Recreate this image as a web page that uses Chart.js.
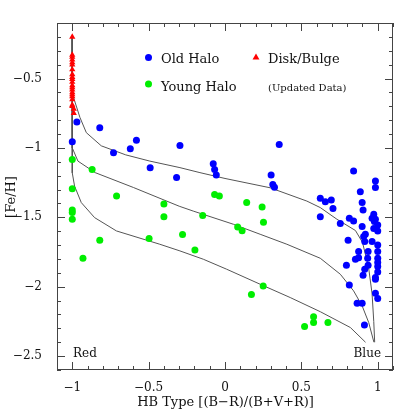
<!DOCTYPE html>
<html>
<head>
<meta charset="utf-8">
<script src="https://cdn.jsdelivr.net/npm/chart.js@4.4.1/dist/chart.umd.min.js"></script>
<style>
  html, body { margin: 0; padding: 0; background: #fff; }
  canvas { display: block; }
</style>
</head>
<body>
<canvas id="hb" width="415" height="415"></canvas>
<script>
const X_TICKS = [-1, -0.5, 0, 0.5, 1];
const Y_TICKS = [-2.5, -2, -1.5, -1, -0.5];

// Disk/Bulge clusters (all at the red end)
const diskX = [-1, -1, -1, -1, -1, -1, -1, -1, -1, -1, -1, -1, -1, -1, -1, -1, -1, -1, -1, -1, -0.99, -0.99];
const diskY = [-0.20, -0.33, -0.345, -0.365, -0.385, -0.40, -0.435, -0.47, -0.49, -0.505, -0.525, -0.55, -0.565,
  -0.58, -0.60, -0.615, -0.63, -0.65, -0.69, -0.70, -0.72, -0.75];

// Old halo clusters
const oldX = [-0.97, -0.82, -1.0, -0.58, -0.62, -0.73, -0.295, -0.49, -0.317, 0.355, -0.077, -0.068, -0.057,
  0.302, 0.313, 0.324, 0.842, 0.985, 0.985, 0.886, 0.624, 0.657, 0.696, 0.898, 0.707, 0.904, 0.624, 0.814,
  0.842, 0.755, 0.974, 0.963, 0.985, 0.978, 1.0, 0.898, 0.974, 1.0, 0.919, 0.908, 0.806, 0.915, 0.963, 1.0,
  0.875, 0.937, 1.0, 0.854, 0.875, 0.934, 1.0, 1.0, 0.937, 1.0, 0.795, 0.915, 1.0, 0.904, 0.985, 0.985,
  0.814, 0.985, 1.0, 0.865, 0.898, 0.913];
const oldY = [-0.814, -0.855, -0.955, -0.944, -1.006, -1.035, -0.982, -1.142, -1.214, -0.975, -1.114, -1.155, -1.196,
  -1.196, -1.263, -1.284, -1.167, -1.239, -1.286, -1.315, -1.363, -1.387, -1.375, -1.394, -1.437, -1.447, -1.495, -1.507,
  -1.527, -1.545, -1.478, -1.507, -1.514, -1.531, -1.555, -1.567, -1.581, -1.598, -1.622, -1.639, -1.665, -1.675, -1.675, -1.699,
  -1.747, -1.747, -1.747, -1.802, -1.792, -1.795, -1.795, -1.826, -1.845, -1.855, -1.845, -1.874, -1.894, -1.917, -1.934, -1.946,
  -1.987, -2.047, -2.085, -2.119, -2.119, -2.275];

// Young halo clusters
const youngX = [-1, -0.87, -1, -0.71, -1, -1, -1, -0.82, -0.93, -0.40, -0.40, -0.146, -0.068, -0.037, 0.142, 0.243,
  0.252, -0.278, -0.497, -0.197, 0.083, 0.112, 0.173, 0.25, 0.521, 0.58, 0.58, 0.674];
const youngY = [-1.083, -1.155, -1.294, -1.347, -1.447, -1.466, -1.514, -1.665, -1.795, -1.404, -1.495, -1.486, -1.335,
  -1.347, -1.394, -1.426, -1.536, -1.624, -1.653, -1.735, -1.57, -1.596, -2.056, -1.995, -2.286, -2.217, -2.258, -2.258];

// model lines
const curve1X = [-1, -1, -0.985, -0.95, -0.908, -0.81, -0.65, -0.492, -0.295, -0.164, 0.0, 0.295, 0.536, 0.624,
  0.733, 0.854, 0.90, 0.94, 0.963, 0.974, 0.98];
const curve1Y = [-0.2, -0.6, -0.66, -0.78, -0.89, -0.985, -1.05, -1.095, -1.142, -1.178, -1.22, -1.287, -1.383, -1.43,
  -1.514, -1.595, -1.68, -1.86, -2.05, -2.25, -2.40];
const curve2X = [-1, -1, -0.963, -0.85, -0.6, -0.3, -0.208, 0.055, 0.23, 0.405, 0.624, 0.755, 0.842, 0.898, 0.941, 0.975];
const curve2Y = [-0.2, -1.0, -1.095, -1.178, -1.285, -1.42, -1.455, -1.55, -1.622, -1.694, -1.795, -1.91, -2.03, -2.138,
  -2.258, -2.40];
const curve3X = [-1, -1, -0.985, -0.941, -0.854, -0.711, -0.427, -0.295, -0.142, 0.011, 0.23, 0.427, 0.624, 0.821, 0.92];
const curve3Y = [-0.2, -1.18, -1.275, -1.394, -1.502, -1.598, -1.694, -1.742, -1.802, -1.874, -1.982, -2.078, -2.18,
  -2.294, -2.40];

const BLUE = "#0000ff";
const GREEN = "#00ee00";
const RED = "#ff0000";
const LINE_COLOR = "#555555";
const AXIS_COLOR = "#444444";
const FONT = '"DejaVu Serif", serif';

function pairs(xs, ys) {
  return xs.map((x, i) => ({ x: x, y: ys[i] }));
}

function minusSign(v) {
  return String(v).replace("-", "\u2212");
}

function drawTriangle(ctx, x, y, r) {
  ctx.beginPath();
  ctx.moveTo(x, y - r);
  ctx.lineTo(x + r * 0.866, y + r * 0.5);
  ctx.lineTo(x - r * 0.866, y + r * 0.5);
  ctx.closePath();
  ctx.fill();
}

// frame with inward ticks, legend and labels
const framePlugin = {
  id: "frame",
  afterDraw(chart) {
    const { ctx, chartArea: a, scales } = chart;
    const sx = scales.x;
    const sy = scales.y;
    ctx.save();
    ctx.strokeStyle = AXIS_COLOR;
    ctx.lineWidth = 1;
    ctx.strokeRect(a.left + 0.5, a.top + 0.5, a.right - a.left - 1, a.bottom - a.top - 1);

    ctx.beginPath();
    for (let i = -11; i <= 11; i++) {
      const len = i % 5 === 0 ? 8 : 4;
      const px = Math.round(sx.getPixelForValue(i / 10)) + 0.5;
      ctx.moveTo(px, a.bottom);
      ctx.lineTo(px, a.bottom - len);
      ctx.moveTo(px, a.top);
      ctx.lineTo(px, a.top + len);
    }
    for (let i = -26; i <= -1; i++) {
      const len = i % 5 === 0 ? 8 : 4;
      const py = Math.round(sy.getPixelForValue(i / 10)) + 0.5;
      ctx.moveTo(a.left, py);
      ctx.lineTo(a.left + len, py);
      ctx.moveTo(a.right, py);
      ctx.lineTo(a.right - len, py);
    }
    ctx.stroke();

    // legend
    ctx.fillStyle = BLUE;
    ctx.beginPath();
    ctx.arc(148.5, 57.5, 3.5, 0, Math.PI * 2);
    ctx.fill();
    ctx.fillStyle = GREEN;
    ctx.beginPath();
    ctx.arc(148.5, 84, 3.5, 0, Math.PI * 2);
    ctx.fill();
    ctx.fillStyle = RED;
    drawTriangle(ctx, 256, 57.5, 4);

    ctx.fillStyle = "#111";
    ctx.textBaseline = "alphabetic";
    ctx.textAlign = "left";
    ctx.font = "13px " + FONT;
    ctx.fillText("Old Halo", 161, 63);
    ctx.fillText("Disk/Bulge", 268, 63);
    ctx.fillText("Young Halo", 161, 91);
    ctx.font = "10px " + FONT;
    ctx.fillText("(Updated Data)", 268, 91);

    ctx.font = "12px " + FONT;
    ctx.fillText("Red", 73, 357);
    ctx.textAlign = "right";
    ctx.fillText("Blue", 381, 357);

    // axis titles
    ctx.textAlign = "center";
    ctx.font = "13px " + FONT;
    ctx.fillText("HB Type [(B\u2212R)/(B+V+R)]", 225.5, 406);
    ctx.translate(15, 197);
    ctx.rotate(-Math.PI / 2);
    ctx.fillText("[Fe/H]", 0, 0);
    ctx.restore();
  },
};

const lineStyle = {
  showLine: true,
  pointRadius: 0,
  borderColor: LINE_COLOR,
  borderWidth: 1,
  tension: 0,
  fill: false,
  order: 3,
};

new Chart(document.getElementById("hb").getContext("2d"), {
  type: "scatter",
  data: {
    datasets: [
      { label: "Disk/Bulge", data: pairs(diskX, diskY), pointStyle: "triangle", pointRadius: 3.6,
        backgroundColor: RED, borderWidth: 0, order: 0 },
      { label: "Old Halo", data: pairs(oldX, oldY), pointStyle: "circle", pointRadius: 3.5,
        backgroundColor: BLUE, borderWidth: 0, order: 1 },
      { label: "Young Halo", data: pairs(youngX, youngY), pointStyle: "circle", pointRadius: 3.5,
        backgroundColor: GREEN, borderWidth: 0, order: 2 },
      Object.assign({ label: "model 1", data: pairs(curve1X, curve1Y) }, lineStyle),
      Object.assign({ label: "model 2", data: pairs(curve2X, curve2Y) }, lineStyle),
      Object.assign({ label: "model 3", data: pairs(curve3X, curve3Y) }, lineStyle),
    ],
  },
  options: {
    responsive: false,
    animation: false,
    devicePixelRatio: 1,
    layout: { padding: { top: 23, right: 22, bottom: 0, left: 0 } },
    plugins: {
      legend: { display: false },
      tooltip: { enabled: false },
    },
    scales: {
      x: {
        type: "linear",
        min: -1.1,
        max: 1.1,
        afterBuildTicks: (s) => { s.ticks = X_TICKS.map((v) => ({ value: v })); },
        afterFit: (s) => { s.height = 45; },
        ticks: {
          color: "#111",
          font: { family: FONT, size: 12 },
          padding: 3,
          maxRotation: 0,
          callback: (v) => minusSign(v),
        },
        grid: { display: false },
        border: { display: false },
      },
      y: {
        type: "linear",
        min: -2.6,
        max: -0.1,
        afterBuildTicks: (s) => { s.ticks = Y_TICKS.map((v) => ({ value: v })); },
        afterFit: (s) => { s.width = 57; },
        ticks: {
          color: "#111",
          font: { family: FONT, size: 12 },
          padding: 7,
          callback: (v) => minusSign(v),
        },
        grid: { display: false },
        border: { display: false },
      },
    },
  },
  plugins: [framePlugin],
});
</script>
</body>
</html>
